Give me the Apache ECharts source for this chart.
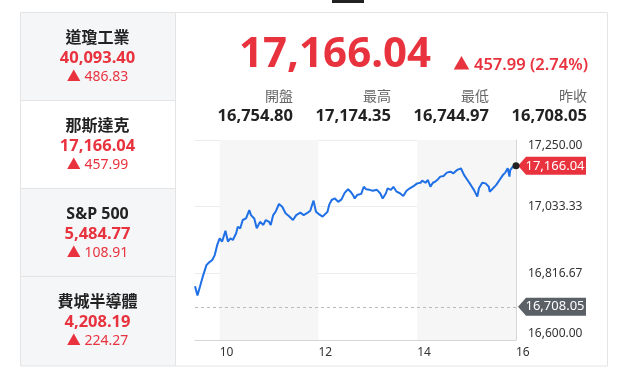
<!DOCTYPE html>
<html>
<head>
<meta charset="utf-8">
<script src="https://cdn.jsdelivr.net/npm/echarts@6/dist/echarts.min.js"></script>
<style>
    html,body{margin:0;padding:0;background:#fff;}
    #chart{width:627px;height:377px;}
</style>
</head>
<body>
<div id="chart"></div>
<script>
// 那斯達克 intraday, minutes after 9:30
var mins = [0,3,6,10,14,18,21,24,27,30,33,37,40,43,46,50,52,55,58,62,66,68,72,75,79,83,86,90,92,95,
    98,102,106,110,114,119,123,128,132,136,140,144,147,150,155,157,161,163,166,170,174,178,182,186,189,192,194,197,202,205,
    208,212,216,218,221,225,228,232,234,238,241,245,249,253,257,261,266,270,274,276,280,283,286,289,292,295,298,302,306,310,
    314,318,323,327,331,335,339,343,345,349,353,357,358,361,366,370,374,377,380,382,383,386,388,390];
var prices = [16775,16745,16773,16811,16844,16854,16860,16876,16909,16930,16920,16955,16920,16930,16925,16947,16968,16963,16990,16995,
    17022,17006,16995,16963,16984,16974,16990,16984,16974,17006,17017,17042,17033,17012,17003,16990,17006,17014,17006,17012,
    17020,17053,17017,17010,17001,16995,17017,17039,17055,17060,17049,17057,17079,17090,17082,17071,17060,17071,17075,17098,
    17090,17088,17085,17079,17088,17077,17060,17077,17093,17088,17098,17082,17077,17068,17085,17093,17101,17109,17111,17118,
    17111,17120,17098,17111,17115,17122,17131,17133,17144,17147,17142,17152,17158,17136,17120,17104,17087,17066,17093,17111,
    17109,17098,17082,17090,17104,17120,17136,17144,17158,17131,17152,17163,17169,17166.04];
var hourTicks = [10,12,14,16];
var yMin = 16600, yMax = 17250;
var lastPrice = 17166.04, prevClose = 16708.05;

// 左側指數列表
var indexNames = ["道瓊工業","那斯達克","S&P 500","費城半導體"];
var indexValues = ["40,093.40","17,166.04","5,484.77","4,208.19"];
var indexChanges = ["486.83","457.99","108.91","224.27"];

// 上方統計
var statNames = ["開盤","最高","最低","昨收"];
var statValues = ["16,754.80","17,174.35","16,744.97","16,708.05"];

var RED = "#e8333f";
var FONT = "'Noto Sans','Noto Sans CJK TC',sans-serif";

function fmt(v){
    return v.toFixed(2).replace(/\B(?=(\d{3})+(?!\d))/g, ",");
}

var chart = echarts.init(document.getElementById("chart"));

var lineData = [];
for(var i=0;i<mins.length;i++){
    lineData.push([9.5 + mins[i]/60, prices[i]]);
}

var graphics = [];
// 頂部小黑條
graphics.push({type:"rect", shape:{x:332,y:0,width:32,height:3}, style:{fill:"#222"}});
// 右側卡片外框
graphics.push({type:"rect", shape:{x:175.5,y:12.5,width:432,height:353.5}, style:{fill:"none",stroke:"#e4e4e4",lineWidth:1}});
// 左側列表
var boxTop = [12.5,100.5,188.5,276.5];
var boxH = [88,88,88,89.5];
for(var k=0;k<indexNames.length;k++){
    graphics.push({type:"rect", shape:{x:20.5,y:boxTop[k],width:155,height:boxH[k]},
        style:{fill:k==1?"#fff":"#f5f6f8",stroke:"#e4e4e4",lineWidth:1}});
    var cy = boxTop[k];
    graphics.push({type:"text", x:97.5, y:cy+25.5, style:{text:indexNames[k],fill:"#222",font:"bold 16px "+FONT,align:"center",verticalAlign:"middle"}});
    graphics.push({type:"text", x:97.5, y:cy+45.5, style:{text:indexValues[k],fill:RED,font:"bold 16.5px "+FONT,align:"center",verticalAlign:"middle"}});
    graphics.push({type:"text", x:97.5, y:cy+64.5, style:{text:"▲ "+indexChanges[k],fill:RED,font:"14px "+FONT,align:"center",verticalAlign:"middle"}});
}
// 大字現價
graphics.push({type:"text", x:431, y:55, style:{text:fmt(lastPrice),fill:RED,font:"bold 42px "+FONT,align:"right",verticalAlign:"middle"}});
graphics.push({type:"text", x:588, y:65, style:{text:"▲ 457.99 (2.74%)",fill:RED,font:"600 16.5px "+FONT,align:"right",verticalAlign:"middle"}});
var statX = [293,391,489,587];
for(var s=0;s<statNames.length;s++){
    graphics.push({type:"text", x:statX[s], y:97, style:{text:statNames[s],fill:"#666",font:"14px "+FONT,align:"right",verticalAlign:"middle"}});
    graphics.push({type:"text", x:statX[s], y:116, style:{text:statValues[s],fill:"#222",font:"bold 16.5px "+FONT,align:"right",verticalAlign:"middle"}});
}

var option = {
    animation:false,
    textStyle:{fontFamily:FONT},
    grid:{left:195, right:111, top:140, bottom:37},
    graphic:graphics,
    xAxis:{
        type:"value",
        min:9.5,
        max:16,
        axisLine:{show:true,lineStyle:{color:"#d6d6d6"}},
        axisTick:{show:false},
        splitLine:{show:false},
        axisLabel:{
            customValues:hourTicks,
            color:"#333",
            fontSize:12,
            align:"left",
            margin:7,
            formatter:function(v){return String(v);}
        }
    },
    yAxis:{
        type:"value",
        position:"right",
        min:yMin,
        max:yMax,
        interval:(yMax-yMin)/3,
        axisLine:{show:true,lineStyle:{color:"#d6d6d6"}},
        axisTick:{show:false},
        splitLine:{lineStyle:{color:"#ececec"}},
        axisLabel:{
            color:"#333",
            fontSize:12,
            margin:12,
            verticalAlignMinLabel:"bottom",
            verticalAlignMaxLabel:"top",
            formatter:function(v){return fmt(v);}
        }
    },
    series:[{
        type:"line",
        data:lineData,
        showSymbol:false,
        clip:false,
        lineStyle:{color:"#1f6fe6",width:2},
        itemStyle:{color:"#1f6fe6"},
        markArea:{
            silent:true,
            itemStyle:{color:"#f6f6f6",opacity:1},
            data:[[{xAxis:10},{xAxis:12}],[{xAxis:14},{xAxis:16}]]
        },
        markLine:{
            silent:true,
            symbol:"none",
            label:{show:false},
            lineStyle:{color:"#bbb",type:[3,3],width:1},
            data:[{yAxis:prevClose}]
        },
        markPoint:{
            silent:true,
            data:[
                {coord:[16,lastPrice], symbol:"path://M0,9L8,0L68,0L68,18L8,18Z", symbolSize:[68,18], symbolKeepAspect:false,
                    symbolOffset:[36,0], itemStyle:{color:RED},
                    label:{show:true,formatter:fmt(lastPrice),color:"#fff",fontSize:13,offset:[3,0]}},
                {coord:[16,prevClose], symbol:"path://M0,9L8,0L68,0L68,18L8,18Z", symbolSize:[68,18], symbolKeepAspect:false,
                    symbolOffset:[36,0], itemStyle:{color:"#5b6067"},
                    label:{show:true,formatter:fmt(prevClose),color:"#fff",fontSize:13,offset:[3,0]}},
                {coord:[16,lastPrice], symbol:"circle", symbolSize:7, itemStyle:{color:"#222"}, label:{show:false}}
            ]
        }
    }]
};
chart.setOption(option);
</script>
</body>
</html>
